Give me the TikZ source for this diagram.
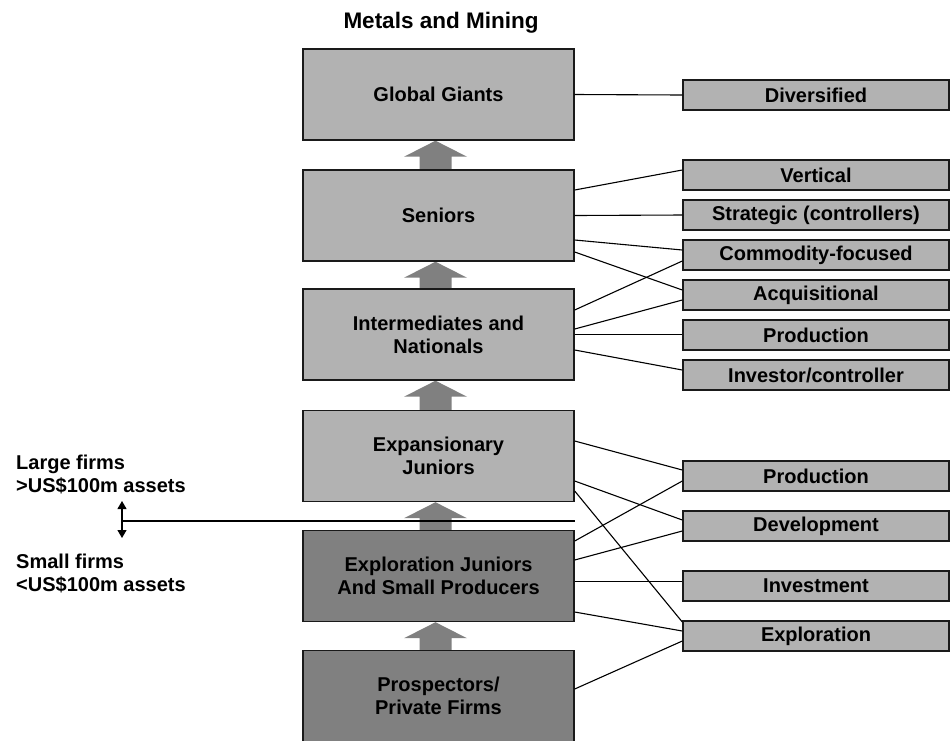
\documentclass[tikz,border=0pt]{standalone}
\usepackage{fontspec}
\setmainfont{Liberation Sans}
\usetikzlibrary{arrows.meta,backgrounds}
\definecolor{boxlight}{HTML}{B2B2B2}
\definecolor{boxdark}{HTML}{808080}
\definecolor{edgeline}{HTML}{1A1A1A}
% upward block arrow below a tier, its tip touching that tier
\newcommand\tierarrow[1]{%
  \fill[boxdark] ([xshift=-3pt]#1.south) -- ++(31.5,16) -- ++(-15.5,0) -- ++(0,18)
    -- ++(-32,0) -- ++(0,-18) -- ++(-15.5,0) -- cycle;}
\begin{document}
\begin{tikzpicture}[x=1pt,y=-1pt,
  labelfont/.style={font=\bfseries\fontsize{20}{23}\selectfont},
  tier/.style={draw=edgeline, line width=1.4pt, minimum width=271pt,
    minimum height=91pt, inner sep=0pt, align=center, labelfont},
  lighttier/.style={tier, fill=boxlight},
  darktier/.style={tier, fill=boxdark},
  role/.style={draw=edgeline, fill=boxlight, line width=1.4pt,
    minimum width=266pt, minimum height=30pt, inner sep=0pt, labelfont},
  link/.style={line width=1.1pt, draw=black},
  sizetext/.style={anchor=west, align=left, inner sep=0pt, labelfont},
  sizetip/.tip={Triangle[length=8pt,width=9pt]}
]
\useasboundingbox (0,0) rectangle (950,740);

% title
\node[anchor=base, inner sep=0pt, font=\bfseries\fontsize{22.5}{26}\selectfont]
  (title) at (441,28) {Metals and Mining};

% company tiers
\node[lighttier] (gg)  at (438.5,94.5) {Global Giants};
\node[lighttier] (sen) at (438.5,215.5) {Seniors};
\node[lighttier] (int) at (438.5,334.5) {Intermediates and\\Nationals};
\node[lighttier] (exp) at (438.5,456) {Expansionary\\Juniors};
\node[darktier]  (xpl) at (438.5,576) {Exploration Juniors\\And Small Producers};
\node[darktier]  (pro) at (438.5,696) {Prospectors/\\Private Firms};

% block arrows between the tiers, behind the boxes
\begin{pgfonlayer}{background}
\tierarrow{gg}
\tierarrow{sen}
\tierarrow{int}
\tierarrow{exp}
\tierarrow{xpl}
\end{pgfonlayer}

% business models
\node[role] (div)  at (816,95)  {Diversified};
\node[role] (vert) at (816,175) {Vertical};
\node[role] (strat) at (816,215) {Strategic (controllers)};
\node[role] (comm) at (816,255) {Commodity-focused};
\node[role] (acq)  at (816,295) {Acquisitional};
\node[role] (prodA) at (816,335) {Production};
\node[role] (inv)  at (816,375) {Investor/controller};
\node[role] (prodB) at (816,476) {Production};
\node[role] (dev)  at (816,526) {Development};
\node[role] (invest) at (816,586) {Investment};
\node[role] (expl) at (816,636) {Exploration};

% links from tiers to business models
\draw[link] (gg.east) -- (div.west);

\draw[link] ([yshift=25.5pt]sen.east) -- ([yshift=5pt]vert.west);
\draw[link] (sen.east) -- (strat.west);
\draw[link] ([yshift=-24.5pt]sen.east) -- ([yshift=5pt]comm.west);
\draw[link] ([yshift=-36.5pt]sen.east) -- ([yshift=5pt]acq.west);

\draw[link] ([yshift=24.5pt]int.east) -- ([yshift=-6pt]comm.west);
\draw[link] ([yshift=5.5pt]int.east) -- ([yshift=-5pt]acq.west);
\draw[link] (int.east) -- ([yshift=0.5pt]prodA.west);
\draw[link] ([yshift=-15.5pt]int.east) -- ([yshift=5pt]inv.west);

\draw[link] ([yshift=15pt]exp.east) -- ([yshift=6pt]prodB.west);
\draw[link] ([yshift=-25pt]exp.east) -- ([yshift=6pt]dev.west);
\draw[link] ([yshift=-35pt]exp.east) -- ([yshift=14pt]expl.west);

\draw[link] ([yshift=35pt]xpl.east) -- ([yshift=-5pt]prodB.west);
\draw[link] ([yshift=16pt]xpl.east) -- ([yshift=-5pt]dev.west);
\draw[link] ([yshift=-5.5pt]xpl.east) -- ([yshift=4.5pt]invest.west);
\draw[link] ([yshift=-36pt]xpl.east) -- ([yshift=5pt]expl.west);

\draw[link] ([yshift=7pt]pro.east) -- ([yshift=-5pt]expl.west);

% size threshold between large and small firms
\coordinate (split) at (122,521);
\coordinate (sizeTop) at (122,501);
\coordinate (sizeBot) at (122,538);
\draw[link] (split) -- (split -| exp.east);
\draw[link, sizetip-sizetip] (sizeTop) -- (sizeBot);

\node[sizetext] (large) at (16,474.5) {Large firms\\>US\$100m assets};
\node[sizetext] (small) at (16,573.5) {Small firms\\<US\$100m assets};
\end{tikzpicture}
\end{document}
